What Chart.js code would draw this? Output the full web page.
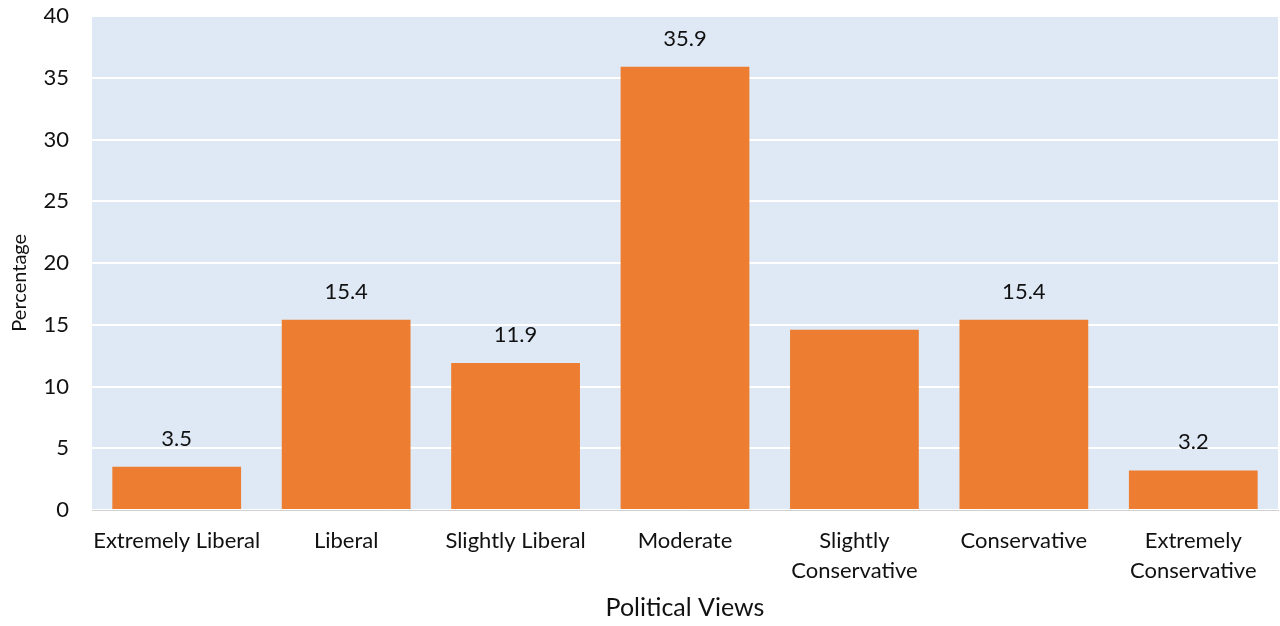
<!DOCTYPE html>
<html>
<head>
<meta charset="utf-8">
<script src="https://cdn.jsdelivr.net/npm/chart.js@4/dist/chart.umd.min.js"></script>
<style>
  html, body { margin: 0; padding: 0; background: #fff; }
  #wrap { width: 1280px; height: 626px; }
</style>
</head>
<body>
<div id="wrap"><canvas id="views-chart" width="1280" height="626"></canvas></div>
<script>
const categories = [
  'Extremely Liberal',
  'Liberal',
  'Slightly Liberal',
  'Moderate',
  ['Slightly', 'Conservative'],
  'Conservative',
  ['Extremely', 'Conservative']
];
const percentages = [3.5, 15.4, 11.9, 35.9, 14.6, 15.4, 3.2];
// which bars get a value printed above them
const showValue = [true, true, true, true, false, true, true];
const yTicks = [0, 5, 10, 15, 20, 25, 30, 35, 40];

const FONT = 'Lato, "Open Sans", sans-serif';

// light blue panel behind the bars
const plotBackground = {
  id: 'plotBackground',
  beforeDraw(chart) {
    const { ctx, chartArea: a } = chart;
    ctx.save();
    ctx.fillStyle = '#DEE9F5';
    ctx.fillRect(a.left, a.top, a.right - a.left, a.bottom - a.top);
    ctx.restore();
  }
};

// numbers over the bars
const valueLabels = {
  id: 'valueLabels',
  afterDatasetsDraw(chart) {
    const ctx = chart.ctx;
    const meta = chart.getDatasetMeta(0);
    ctx.save();
    ctx.fillStyle = '#111';
    ctx.font = '22px ' + FONT;
    ctx.textAlign = 'center';
    ctx.textBaseline = 'alphabetic';
    meta.data.forEach(function(bar, i) {
      if (!showValue[i]) return;
      ctx.fillText(percentages[i].toFixed(1), bar.x, bar.y - 21);
    });
    ctx.restore();
  }
};

// vertical axis title, sits a bit below the middle of the plot
const yTitle = {
  id: 'yTitle',
  afterDraw(chart) {
    const ctx = chart.ctx;
    const a = chart.chartArea;
    ctx.save();
    ctx.translate(20, a.top + (a.bottom - a.top) * 0.54);
    ctx.rotate(-Math.PI / 2);
    ctx.fillStyle = '#111';
    ctx.font = '20px ' + FONT;
    ctx.textAlign = 'center';
    ctx.textBaseline = 'middle';
    ctx.fillText('Percentage', 0, 0);
    ctx.restore();
  }
};

const ctx = document.getElementById('views-chart').getContext('2d');
const myChart = new Chart(ctx, {
  type: 'bar',
  data: {
    labels: categories,
    datasets: [
      {
        label: 'Percentage',
        data: percentages,
        backgroundColor: '#ED7D31',
        borderWidth: 0,
        barPercentage: 0.76,
        categoryPercentage: 1.0
      }
    ]
  },
  options: {
    responsive: false,
    animation: false,
    layout: { padding: { top: 16, right: 2, left: 7, bottom: 3 } },
    plugins: {
      legend: { display: false },
      tooltip: { enabled: false }
    },
    scales: {
      x: {
        grid: { display: false },
        border: { display: true, color: '#D0D0D0', width: 1 },
        afterFit(axis) {
          axis.height = 113;
        },
        ticks: {
          color: '#111',
          font: { family: FONT, size: 22, lineHeight: 1.36 },
          padding: 8,
          maxRotation: 0,
          autoSkip: false
        },
        title: {
          display: true,
          text: 'Political Views',
          color: '#111',
          font: { family: FONT, size: 25 },
          padding: { top: 0, bottom: 0 }
        }
      },
      y: {
        min: 0,
        max: 40,
        afterBuildTicks(axis) {
          axis.ticks = yTicks.map(v => ({ value: v }));
        },
        afterFit(axis) {
          axis.width = 85;
          // the top label may sit on the plot edge
          axis.paddingTop = 0;
          axis.paddingBottom = 0;
        },
        grid: {
          color: '#FFFFFF',
          lineWidth: 2,
          drawTicks: false
        },
        border: { display: false },
        ticks: {
          color: '#111',
          font: { family: FONT, size: 22 },
          padding: 23
        }
      }
    }
  },
  plugins: [plotBackground, valueLabels, yTitle]
});
</script>
</body>
</html>
